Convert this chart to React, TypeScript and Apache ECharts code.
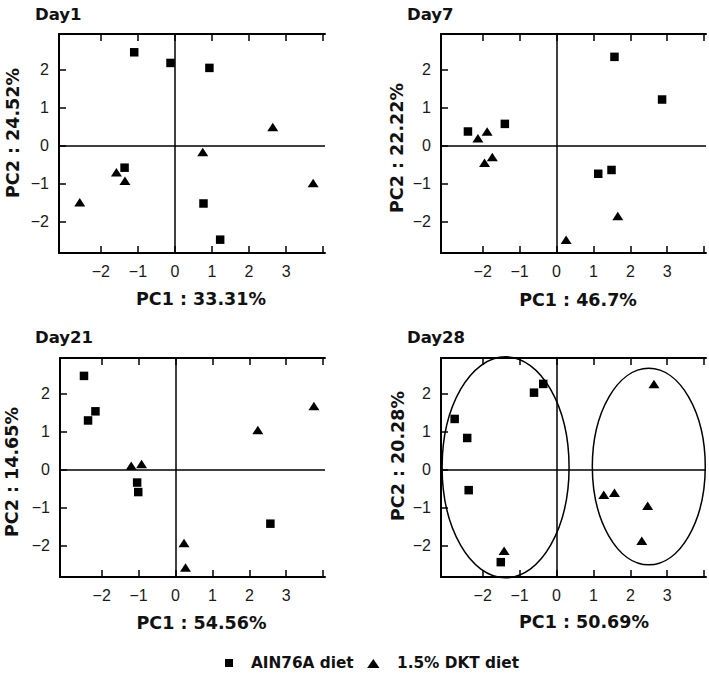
import React, { useEffect, useRef } from "react";
import * as echarts from "echarts";

// ---- Data (PC1, PC2) ----
const panelTitles = ["Day1", "Day7", "Day21", "Day28"];
const pc1Labels = ["PC1 : 33.31%", "PC1 : 46.7%", "PC1 : 54.56%", "PC1 : 50.69%"];
const pc2Labels = ["PC2 : 24.52%", "PC2 : 22.22%", "PC2 : 14.65%", "PC2 : 20.28%"];
const seriesNames = ["AIN76A diet", "1.5% DKT diet"];

const day1Ain = [[-1.1, 2.45], [-0.12, 2.17], [0.93, 2.04], [-1.36, -0.58], [0.77, -1.52], [1.22, -2.47]];
const day1Dkt = [[2.64, 0.49], [0.75, -0.17], [3.73, -0.98], [-1.58, -0.7], [-1.35, -0.92], [-2.57, -1.49]];

const day7Ain = [[1.57, 2.33], [2.86, 1.21], [-2.4, 0.37], [-1.4, 0.57], [1.13, -0.74], [1.49, -0.64]];
const day7Dkt = [[-1.88, 0.37], [-2.13, 0.19], [-1.74, -0.3], [-1.95, -0.45], [0.26, -2.47], [1.66, -1.85]];

const day21Ain = [[-2.48, 2.46], [-2.17, 1.53], [-2.37, 1.29], [-1.04, -0.34], [-1.01, -0.59], [2.57, -1.42]];
const day21Dkt = [[3.75, 1.67], [2.23, 1.04], [-1.2, 0.1], [-0.92, 0.15], [0.23, -1.93], [0.27, -2.57]];

const day28Ain = [[-2.76, 1.33], [-2.42, 0.83], [-2.38, -0.54], [-0.61, 2.02], [-0.36, 2.25], [-1.51, -2.43]];
const day28Dkt = [[-1.42, -2.13], [1.28, -0.66], [1.57, -0.61], [2.47, -0.95], [2.31, -1.87], [2.64, 2.25]];

// ellipses on Day28: [centerX, centerY, radiusX, radiusY]
const day28Ellipses = [[-1.38, 0.06, 1.72, 2.9], [2.5, 0.08, 1.53, 2.58]];

const ainSets = [day1Ain, day7Ain, day21Ain, day28Ain];
const dktSets = [day1Dkt, day7Dkt, day21Dkt, day28Dkt];

const xTickValues = [-2, -1, 0, 1, 2, 3, 4];
const xLabelValues = [-2, -1, 0, 1, 2, 3];
const yTickValues = [-2, -1, 0, 1, 2];

const X_MIN = -3.13, X_MAX = 4.05, Y_MIN = -2.82, Y_MAX = 2.93;

const grids = [
  { left: 59, top: 34, width: 266, height: 219 },
  { left: 441, top: 34, width: 265, height: 219 },
  { left: 60, top: 358, width: 265, height: 219 },
  { left: 441, top: 358, width: 265, height: 219 },
];

const titlePos = [[35, 14], [407, 14], [35, 337], [407, 337]];
const xNamePos = [[201, 299], [578, 300], [201.5, 622.5], [584, 622]];
const yNamePos = [[12.5, 133], [396.5, 148], [12, 472], [398, 456]];

const FONT = '"Liberation Sans", Arial, Helvetica, sans-serif';
const BOLD_FONT = '"DejaVu Sans", "Liberation Sans", Arial, sans-serif';
const minus = (v: any) => String(v).replace("-", "\u2212");

export default function App() {
  const ref = useRef<HTMLDivElement>(null);
  useEffect(() => {
    if (!ref.current) return;
    const chart = echarts.init(ref.current, null, { renderer: "svg" });

    const xAxes: any[] = [];
    const yAxes: any[] = [];
    const series: any[] = [];
    const graphics: any[] = [];

    const lineStyle = { color: "#000", width: 2 };

    grids.forEach((g, i) => {
      xAxes.push({
        type: "value", gridIndex: i, position: "bottom", min: X_MIN, max: X_MAX,
        axisLine: { show: true, onZero: false, lineStyle },
        axisTick: { show: true, inside: true, length: 7, customValues: xTickValues, lineStyle: { color: "#000", width: 1.5 } },
        axisLabel: { show: true, customValues: xLabelValues, formatter: minus, fontSize: 16, color: "#1a1a1a", fontFamily: FONT, margin: 10 },
        splitLine: { show: false },
      });
      xAxes.push({
        type: "value", gridIndex: i, position: "top", min: X_MIN, max: X_MAX,
        axisLine: { show: true, onZero: false, lineStyle },
        axisTick: { show: true, inside: true, length: 7, customValues: xTickValues, lineStyle: { color: "#000", width: 1.5 } },
        axisLabel: { show: false },
        splitLine: { show: false },
      });
      yAxes.push({
        type: "value", gridIndex: i, position: "left", min: Y_MIN, max: Y_MAX,
        axisLine: { show: true, onZero: false, lineStyle },
        axisTick: { show: true, inside: true, length: 7, customValues: yTickValues, lineStyle: { color: "#000", width: 1.5 } },
        axisLabel: { show: true, customValues: yTickValues, formatter: minus, fontSize: 16, color: "#1a1a1a", fontFamily: FONT, margin: 10 },
        splitLine: { show: false },
      });

      series.push({
        name: seriesNames[0], type: "scatter", xAxisIndex: i * 2, yAxisIndex: i,
        symbol: "rect", symbolSize: 8.5, itemStyle: { color: "#000", opacity: 1 },
        data: ainSets[i], z: 5,
        markLine: {
          silent: true, symbol: "none", label: { show: false },
          lineStyle: { color: "#000", width: 1.5, type: "solid" },
          emphasis: { disabled: true },
          data: [{ xAxis: 0 }, { yAxis: 0 }],
        },
      });
      series.push({
        name: seriesNames[1], type: "scatter", xAxisIndex: i * 2, yAxisIndex: i,
        symbol: "triangle", symbolSize: [11, 8.5], itemStyle: { color: "#000", opacity: 1 },
        data: dktSets[i], z: 5,
      });

      graphics.push({
        type: "text", x: titlePos[i][0], y: titlePos[i][1],
        style: { text: panelTitles[i], font: `bold 16.5px ${BOLD_FONT}`, fill: "#111", align: "left", verticalAlign: "middle" },
      });
      graphics.push({
        type: "text", x: xNamePos[i][0], y: xNamePos[i][1],
        style: { text: pc1Labels[i], font: `bold 17.5px ${BOLD_FONT}`, fill: "#111", align: "center", verticalAlign: "middle" },
      });
      graphics.push({
        type: "text", x: yNamePos[i][0], y: yNamePos[i][1], rotation: Math.PI / 2,
        style: { text: pc2Labels[i], font: `bold 17.5px ${BOLD_FONT}`, fill: "#111", align: "center", verticalAlign: "middle" },
      });
    });

    // legend (drawn as graphic for exact placement)
    graphics.push({ type: "rect", shape: { x: 225, y: 659, width: 8, height: 8 }, style: { fill: "#000" } });
    graphics.push({
      type: "text", x: 251, y: 663,
      style: { text: seriesNames[0], font: `bold 15.3px ${BOLD_FONT}`, fill: "#111", align: "left", verticalAlign: "middle" },
    });
    graphics.push({ type: "polygon", shape: { points: [[373.3, 659], [379.5, 668], [367.1, 668]] }, style: { fill: "#000" } });
    graphics.push({
      type: "text", x: 397, y: 663,
      style: { text: seriesNames[1], font: `bold 15.3px ${BOLD_FONT}`, fill: "#111", align: "left", verticalAlign: "middle" },
    });

    series.push({
      type: "custom", name: "ellipse", xAxisIndex: 6, yAxisIndex: 3, clip: false, silent: true,
      data: day28Ellipses,
      renderItem: (params: any, api: any) => {
        const c = api.coord([api.value(0), api.value(1)]);
        const s = api.size([api.value(2), api.value(3)]);
        return {
          type: "ellipse",
          shape: { cx: c[0], cy: c[1], rx: s[0], ry: s[1] },
          style: { fill: "none", stroke: "#000", lineWidth: 1.5 },
        };
      },
      z: 4,
    });

    chart.setOption({
      animation: false,
      backgroundColor: "#fff",
      grid: grids.map((g) => ({ ...g, containLabel: false, outerBoundsMode: "none" })),
      xAxis: xAxes,
      yAxis: yAxes,
      series,
      graphic: graphics,
    });

    return () => chart.dispose();
  }, []);

  return <div ref={ref} style={{ position: "fixed", left: 0, top: 0, width: 709, height: 675 }} />;
}
